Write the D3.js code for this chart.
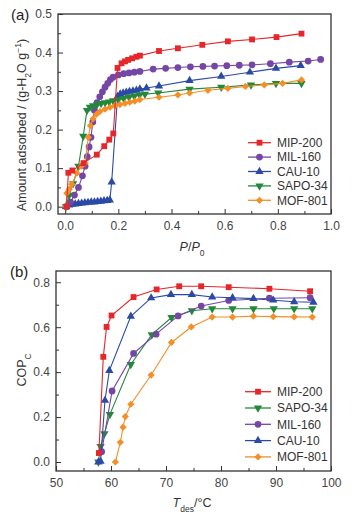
<!DOCTYPE html>
<html>
<head>
<meta charset="utf-8">
<script src="https://cdn.jsdelivr.net/npm/d3@7"></script>
<style>
  body { margin: 0; background: #fff; }
  svg { display: block; font-family: "Liberation Sans", Arial, sans-serif; }
  .tick text { fill: #444; font-size: 12px; }
  .tick line { stroke: #333; }
</style>
</head>
<body>
<svg id="chart" width="360" height="521"></svg>
<script>
// ---- panel (a): water sorption isotherms, [P/P0, amount adsorbed]
const mip200Iso = [[0.005,0.0],[0.012,0.088],[0.027,0.094],[0.069,0.113],[0.119,0.135],[0.147,0.157],[0.166,0.174],[0.181,0.19],[0.197,0.36],[0.212,0.372],[0.225,0.377],[0.237,0.381],[0.252,0.385],[0.268,0.389],[0.281,0.392],[0.353,0.404],[0.424,0.411],[0.516,0.42],[0.612,0.429],[0.703,0.434],[0.795,0.44],[0.889,0.449]];
const mil160Iso = [[0.005,0.0],[0.02,0.012],[0.035,0.03],[0.05,0.05],[0.065,0.08],[0.075,0.105],[0.083,0.13],[0.09,0.155],[0.097,0.18],[0.104,0.22],[0.11,0.25],[0.12,0.27],[0.13,0.285],[0.14,0.298],[0.15,0.31],[0.16,0.32],[0.17,0.33],[0.18,0.336],[0.2,0.342],[0.22,0.345],[0.24,0.347],[0.26,0.349],[0.281,0.351],[0.331,0.357],[0.378,0.359],[0.424,0.361],[0.471,0.363],[0.518,0.364],[0.562,0.365],[0.608,0.366],[0.655,0.367],[0.703,0.368],[0.772,0.371],[0.843,0.375],[0.914,0.378],[0.961,0.382]];
const cau10Iso = [[0.003,0.0],[0.015,0.004],[0.027,0.006],[0.038,0.007],[0.05,0.008],[0.062,0.009],[0.074,0.01],[0.086,0.011],[0.098,0.012],[0.11,0.012],[0.122,0.013],[0.134,0.014],[0.146,0.015],[0.158,0.016],[0.168,0.017],[0.175,0.064],[0.197,0.286],[0.207,0.292],[0.218,0.295],[0.23,0.297],[0.242,0.299],[0.255,0.3],[0.268,0.302],[0.281,0.305],[0.306,0.308],[0.353,0.313],[0.468,0.327],[0.587,0.338],[0.695,0.349],[0.793,0.359],[0.886,0.366]];
const sapo34Iso = [[0.003,0.0],[0.015,0.03],[0.03,0.06],[0.05,0.105],[0.068,0.183],[0.082,0.25],[0.093,0.258],[0.105,0.262],[0.12,0.265],[0.135,0.268],[0.15,0.27],[0.165,0.272],[0.18,0.275],[0.2,0.278],[0.22,0.281],[0.24,0.284],[0.26,0.287],[0.28,0.29],[0.3,0.292],[0.35,0.295],[0.468,0.305],[0.587,0.31],[0.699,0.316],[0.793,0.32],[0.889,0.32]];
const mof801Iso = [[0.003,0.0],[0.006,0.035],[0.015,0.045],[0.025,0.058],[0.044,0.087],[0.06,0.105],[0.075,0.113],[0.087,0.18],[0.095,0.21],[0.105,0.228],[0.118,0.24],[0.131,0.247],[0.15,0.253],[0.169,0.258],[0.187,0.262],[0.206,0.265],[0.225,0.268],[0.243,0.271],[0.262,0.274],[0.281,0.278],[0.353,0.284],[0.424,0.29],[0.468,0.295],[0.537,0.302],[0.612,0.307],[0.678,0.312],[0.749,0.316],[0.818,0.32],[0.889,0.329]];

// ---- panel (b): COP_C vs desorption temperature, [T_des, COP]
const mip200Cop = [[57.8,0.04],[58.6,0.468],[59.2,0.601],[60.1,0.652],[64.1,0.734],[68.3,0.768],[72.4,0.782],[76.4,0.782],[81.4,0.778],[88.8,0.771],[96.2,0.76]];
const sapo34Cop = [[57.7,0.0],[58.1,0.069],[58.8,0.126],[59.8,0.212],[63.6,0.434],[67.4,0.567],[71.0,0.643],[74.7,0.673],[78.4,0.682],[82.1,0.682],[85.9,0.682],[89.6,0.682],[93.3,0.682],[96.6,0.682]];
const mil160Cop = [[58.3,0.046],[60.2,0.316],[64.1,0.483],[68.2,0.569],[72.2,0.65],[76.4,0.694],[81.4,0.719],[88.8,0.729],[96.2,0.731]];
const cau10Cop = [[57.7,0.0],[58.1,0.003],[58.9,0.274],[59.7,0.407],[63.6,0.648],[67.3,0.73],[70.9,0.745],[74.7,0.745],[78.4,0.734],[82.1,0.731],[85.9,0.727],[89.5,0.72],[93.3,0.713],[96.8,0.711]];
const mof801Cop = [[60.8,0.0],[61.7,0.088],[62.2,0.155],[62.6,0.202],[63.6,0.257],[67.3,0.387],[71.0,0.532],[74.6,0.601],[78.4,0.645],[82.1,0.645],[85.9,0.649],[89.5,0.647],[93.3,0.646],[96.6,0.645]];

const xTicksA = [0, 0.2, 0.4, 0.6, 0.8, 1.0];
const yTicksA = [0, 0.1, 0.2, 0.3, 0.4, 0.5];
const xTicksB = [50, 60, 70, 80, 90, 100];
const yTicksB = [0, 0.2, 0.4, 0.6, 0.8];

const seriesA = [
  {name: "MIP-200", color: "#e5262a", shape: "square", data: mip200Iso},
  {name: "MIL-160", color: "#7447a6", shape: "circle", data: mil160Iso},
  {name: "CAU-10", color: "#2b4aa6", shape: "triangle", data: cau10Iso},
  {name: "SAPO-34", color: "#24883a", shape: "triDown", data: sapo34Iso},
  {name: "MOF-801", color: "#f58e26", shape: "diamond", data: mof801Iso}
];
const seriesB = [
  {name: "MIP-200", color: "#e5262a", shape: "square", data: mip200Cop},
  {name: "SAPO-34", color: "#24883a", shape: "triDown", data: sapo34Cop},
  {name: "MIL-160", color: "#7447a6", shape: "circle", data: mil160Cop},
  {name: "CAU-10", color: "#2b4aa6", shape: "triangle", data: cau10Cop},
  {name: "MOF-801", color: "#f58e26", shape: "diamond", data: mof801Cop}
];

const SVG = d3.select("#chart");

let symbolPath = {
  square: d3.symbol().type(d3.symbolSquare).size(34)(),
  circle: d3.symbol().type(d3.symbolCircle).size(36)(),
  triangle: d3.symbol().type(d3.symbolTriangle).size(30)(),
  triDown: d3.symbol().type(d3.symbolTriangle).size(30)(),
  diamond: d3.symbol().type(d3.symbolSquare).size(26)()
};
let symbolRot = {square: 0, circle: 0, triangle: 0, triDown: 180, diamond: 45};

function marker(g, s, px, py) {
  g.append("path")
    .attr("d", symbolPath[s.shape])
    .attr("transform", "translate(" + px + "," + py + ") rotate(" + symbolRot[s.shape] + ")")
    .style("fill", s.color);
}

function panel(opts) {
  let {x, y, xTicks, yTicks, xMinor, yMinor, xFmt, yFmt, series, drawOrder} = opts;
  let [x0, x1] = x.range(), [y0, y1] = y.range();
  let g = SVG.append("g");

  // minor ticks
  g.append("g").attr("transform", "translate(" + x0 + ",0)")
    .call(d3.axisLeft(y).tickValues(yMinor).tickSize(-3).tickFormat(""))
    .call(a => a.select(".domain").remove());
  g.append("g").attr("transform", "translate(0," + y0 + ")")
    .call(d3.axisBottom(x).tickValues(xMinor).tickSize(-3).tickFormat(""))
    .call(a => a.select(".domain").remove());
  // major ticks
  g.append("g").attr("transform", "translate(" + x0 + ",0)")
    .call(d3.axisLeft(y).tickValues(yTicks).tickSize(-5).tickPadding(6).tickFormat(yFmt))
    .call(a => a.select(".domain").remove());
  g.append("g").attr("transform", "translate(0," + y0 + ")")
    .call(d3.axisBottom(x).tickValues(xTicks).tickSize(-5).tickPadding(7).tickFormat(xFmt))
    .call(a => a.select(".domain").remove());

  let line = d3.line().x(d => x(d[0])).y(d => y(d[1]));
  drawOrder.forEach(i => {
    let s = series[i];
    g.append("path").datum(s.data)
      .attr("d", line)
      .style("fill", "none")
      .style("stroke", s.color)
      .style("stroke-width", 1.1);
    s.data.forEach(d => marker(g, s, x(d[0]), y(d[1])));
  });

  g.append("rect")
    .attr("x", x0).attr("y", y1)
    .attr("width", x1 - x0).attr("height", y0 - y1)
    .style("fill", "none").style("stroke", "#333").style("stroke-width", 1.3);
  return g;
}

function legend(series, lx0, lx1, ty, yStart, step) {
  let g = SVG.append("g");
  series.forEach((s, i) => {
    let cy = yStart + i * step;
    g.append("line")
      .attr("x1", lx0).attr("x2", lx1).attr("y1", cy).attr("y2", cy)
      .style("stroke", s.color).style("stroke-width", 1.3);
    marker(g, s, (lx0 + lx1) / 2, cy);
    g.append("text")
      .attr("x", ty).attr("y", cy).attr("dy", "0.36em")
      .style("font-size", "12px").style("fill", "#333")
      .text(s.name);
  });
}

// panel (a)
let xA = d3.scaleLinear().domain([-0.027, 1.0]).range([58, 331]);
let yA = d3.scaleLinear().domain([-0.019, 0.5]).range([214, 14]);
panel({
  x: xA, y: yA,
  xTicks: xTicksA, yTicks: yTicksA,
  xMinor: [0.1, 0.3, 0.5, 0.7, 0.9],
  yMinor: [0.05, 0.15, 0.25, 0.35, 0.45],
  xFmt: d3.format(".1f"), yFmt: d3.format(".1f"),
  series: seriesA, drawOrder: [2, 1, 3, 4, 0]
});
legend(seriesA, 248, 271, 277, 142.7, 14.4);

// panel (b)
let xB = d3.scaleLinear().domain([50, 100]).range([56, 331]);
let yB = d3.scaleLinear().domain([-0.04, 0.85]).range([471, 271]);
panel({
  x: xB, y: yB,
  xTicks: xTicksB, yTicks: yTicksB,
  xMinor: [55, 65, 75, 85, 95],
  yMinor: [0.1, 0.3, 0.5, 0.7],
  xFmt: d3.format("d"), yFmt: d3.format(".1f"),
  series: seriesB, drawOrder: [4, 1, 2, 3, 0]
});
legend(seriesB, 245, 271, 277, 391.7, 16.3);

// labels
SVG.append("text").attr("x", 11).attr("y", 20)
  .style("font-size", "15px").style("fill", "#222").text("(a)");
SVG.append("text").attr("x", 10).attr("y", 277)
  .style("font-size", "15px").style("fill", "#222").text("(b)");

let yTitleA = SVG.append("text")
  .attr("transform", "translate(26,125) rotate(-90)")
  .style("text-anchor", "middle").style("font-size", "12.5px").style("fill", "#333");
yTitleA.append("tspan").text("Amount adsorbed / (g-H");
yTitleA.append("tspan").attr("baseline-shift", "sub").style("font-size", "8.5px").text("2");
yTitleA.append("tspan").text("O g");
yTitleA.append("tspan").attr("baseline-shift", "super").style("font-size", "8.5px").text("\u22121");
yTitleA.append("tspan").text(")");

let yTitleB = SVG.append("text")
  .attr("transform", "translate(26,370) rotate(-90)")
  .style("text-anchor", "middle").style("font-size", "12.5px").style("fill", "#333");
yTitleB.append("tspan").text("COP");
yTitleB.append("tspan").attr("baseline-shift", "sub").style("font-size", "8.5px").text("C");

let xTitleA = SVG.append("text")
  .attr("x", 192).attr("y", 251)
  .style("text-anchor", "middle").style("font-size", "12.5px").style("fill", "#333");
xTitleA.append("tspan").style("font-style", "italic").text("P");
xTitleA.append("tspan").text("/");
xTitleA.append("tspan").style("font-style", "italic").text("P");
xTitleA.append("tspan").attr("baseline-shift", "sub").style("font-size", "8.5px").text("0");

let xTitleB = SVG.append("text")
  .attr("x", 192).attr("y", 507)
  .style("text-anchor", "middle").style("font-size", "12.5px").style("fill", "#333");
xTitleB.append("tspan").style("font-style", "italic").text("T");
xTitleB.append("tspan").attr("baseline-shift", "sub").style("font-size", "8.5px").text("des");
xTitleB.append("tspan").text("/\u00B0C");
</script>
</body>
</html>
